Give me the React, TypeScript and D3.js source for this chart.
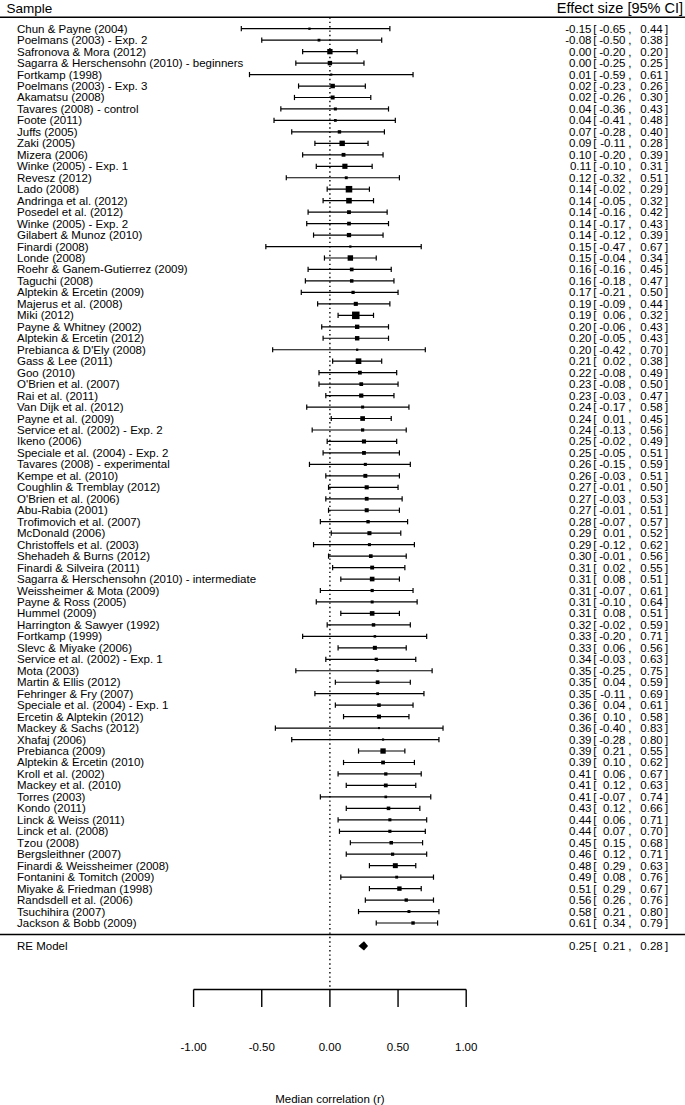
import React, { useEffect } from "react";
import * as d3 from "d3";

const studies = [
  "Chun & Payne (2004)",
  "Poelmans (2003) - Exp. 2",
  "Safronova & Mora (2012)",
  "Sagarra & Herschensohn (2010) - beginners",
  "Fortkamp (1998)",
  "Poelmans (2003) - Exp. 3",
  "Akamatsu (2008)",
  "Tavares (2008) - control",
  "Foote (2011)",
  "Juffs (2005)",
  "Zaki (2005)",
  "Mizera (2006)",
  "Winke (2005) - Exp. 1",
  "Revesz (2012)",
  "Lado (2008)",
  "Andringa et al. (2012)",
  "Posedel et al. (2012)",
  "Winke (2005) - Exp. 2",
  "Gilabert & Munoz (2010)",
  "Finardi (2008)",
  "Londe (2008)",
  "Roehr & Ganem-Gutierrez (2009)",
  "Taguchi (2008)",
  "Alptekin & Ercetin (2009)",
  "Majerus et al. (2008)",
  "Miki (2012)",
  "Payne & Whitney (2002)",
  "Alptekin & Ercetin (2012)",
  "Prebianca & D'Ely (2008)",
  "Gass & Lee (2011)",
  "Goo (2010)",
  "O'Brien et al. (2007)",
  "Rai et al. (2011)",
  "Van Dijk et al. (2012)",
  "Payne et al. (2009)",
  "Service et al. (2002) - Exp. 2",
  "Ikeno (2006)",
  "Speciale et al. (2004) - Exp. 2",
  "Tavares (2008) - experimental",
  "Kempe et al. (2010)",
  "Coughlin & Tremblay (2012)",
  "O'Brien et al. (2006)",
  "Abu-Rabia (2001)",
  "Trofimovich et al. (2007)",
  "McDonald (2006)",
  "Christoffels et al. (2003)",
  "Shehadeh & Burns (2012)",
  "Finardi & Silveira (2011)",
  "Sagarra & Herschensohn (2010) - intermediate",
  "Weissheimer & Mota (2009)",
  "Payne & Ross (2005)",
  "Hummel (2009)",
  "Harrington & Sawyer (1992)",
  "Fortkamp (1999)",
  "Slevc & Miyake (2006)",
  "Service et al. (2002) - Exp. 1",
  "Mota (2003)",
  "Martin & Ellis (2012)",
  "Fehringer & Fry (2007)",
  "Speciale et al. (2004) - Exp. 1",
  "Ercetin & Alptekin (2012)",
  "Mackey & Sachs (2012)",
  "Xhafaj (2006)",
  "Prebianca (2009)",
  "Alptekin & Ercetin (2010)",
  "Kroll et al. (2002)",
  "Mackey et al. (2010)",
  "Torres (2003)",
  "Kondo (2011)",
  "Linck & Weiss (2011)",
  "Linck et al. (2008)",
  "Tzou (2008)",
  "Bergsleithner (2007)",
  "Finardi & Weissheimer (2008)",
  "Fontanini & Tomitch (2009)",
  "Miyake & Friedman (1998)",
  "Randsdell et al. (2006)",
  "Tsuchihira (2007)",
  "Jackson & Bobb (2009)",
];

const effect = [
  -0.15, -0.08, 0.0, 0.0, 0.01, 0.02, 0.02, 0.04, 0.04, 0.07, 0.09, 0.1, 0.11,
  0.12, 0.14, 0.14, 0.14, 0.14, 0.14, 0.15, 0.15, 0.16, 0.16, 0.17, 0.19, 0.19,
  0.2, 0.2, 0.2, 0.21, 0.22, 0.23, 0.23, 0.24, 0.24, 0.24, 0.25, 0.25, 0.26,
  0.26, 0.27, 0.27, 0.27, 0.28, 0.29, 0.29, 0.3, 0.31, 0.31, 0.31, 0.31, 0.31,
  0.32, 0.33, 0.33, 0.34, 0.35, 0.35, 0.35, 0.36, 0.36, 0.36, 0.39, 0.39, 0.39,
  0.41, 0.41, 0.41, 0.43, 0.44, 0.44, 0.45, 0.46, 0.48, 0.49, 0.51, 0.56, 0.58,
  0.61,
];

const lower = [
  -0.65, -0.5, -0.2, -0.25, -0.59, -0.23, -0.26, -0.36, -0.41, -0.28, -0.11,
  -0.2, -0.1, -0.32, -0.02, -0.05, -0.16, -0.17, -0.12, -0.47, -0.04, -0.16,
  -0.18, -0.21, -0.09, 0.06, -0.06, -0.05, -0.42, 0.02, -0.08, -0.08, -0.03,
  -0.17, 0.01, -0.13, -0.02, -0.05, -0.15, -0.03, -0.01, -0.03, -0.01, -0.07,
  0.01, -0.12, -0.01, 0.02, 0.08, -0.07, -0.1, 0.08, -0.02, -0.2, 0.06, -0.03,
  -0.25, 0.04, -0.11, 0.04, 0.1, -0.4, -0.28, 0.21, 0.1, 0.06, 0.12, -0.07, 0.12,
  0.06, 0.07, 0.15, 0.12, 0.29, 0.08, 0.29, 0.26, 0.21, 0.34,
];

const upper = [
  0.44, 0.38, 0.2, 0.25, 0.61, 0.26, 0.3, 0.43, 0.48, 0.4, 0.28, 0.39, 0.31,
  0.51, 0.29, 0.32, 0.42, 0.43, 0.39, 0.67, 0.34, 0.45, 0.47, 0.5, 0.44, 0.32,
  0.43, 0.43, 0.7, 0.38, 0.49, 0.5, 0.47, 0.58, 0.45, 0.56, 0.49, 0.51, 0.59,
  0.51, 0.5, 0.53, 0.51, 0.57, 0.52, 0.62, 0.56, 0.55, 0.51, 0.61, 0.64, 0.51,
  0.59, 0.71, 0.56, 0.63, 0.75, 0.59, 0.69, 0.61, 0.58, 0.83, 0.8, 0.55, 0.62,
  0.67, 0.63, 0.74, 0.66, 0.71, 0.7, 0.68, 0.71, 0.63, 0.76, 0.67, 0.76, 0.8,
  0.79,
];

const summary = { label: "RE Model", est: 0.25, lb: 0.21, ub: 0.28 };
const xTicks = [-1, -0.5, 0, 0.5, 1];

const W = 685;
const H = 1105;
const font = "'Liberation Sans', Arial, sans-serif";
const fs = 11.5;

export default function App() {
  useEffect(() => {
    document.body.style.margin = "0";
  }, []);

  const x = d3.scaleLinear().domain([-1, 1]).range([193.6, 466.2]);
  // row index -1 = header rule, 0..78 = studies, 79 = separator, 80 = RE model
  const y = d3.scaleLinear().domain([0, studies.length - 1]).range([28.7, 923]);
  const axisY = 989.5;

  // square size from precision (Fisher z standard error)
  const weights = lower.map((lb, i) => {
    const se = (Math.atanh(upper[i]) - Math.atanh(lb)) / (2 * 1.96);
    return 1 / (se * se);
  });
  const size = d3
    .scaleSqrt()
    .domain([d3.min(weights) as number, d3.max(weights) as number])
    .range([2, 7.5]);

  const f2 = d3.format(".2f");
  const fmt = (v: number) => f2(v).replace("−", "-");

  const annot = (yy: number, e: number, lb: number, ub: number, key: string) => (
    <g key={key} fontSize={fs} fontFamily={font}>
      <text x={591.5} y={yy + 4} textAnchor="end">{fmt(e)}</text>
      <text x={593.3} y={yy + 4}>[</text>
      <text x={625.5} y={yy + 4} textAnchor="end">{fmt(lb)}</text>
      <text x={628.3} y={yy + 4}>,</text>
      <text x={662.7} y={yy + 4} textAnchor="end">{fmt(ub)}</text>
      <text x={665} y={yy + 4}>]</text>
    </g>
  );

  const topRule = y(-1);
  const sepRule = y(studies.length);
  const reY = y(studies.length + 1);

  return (
    <svg width={W} height={H} style={{ display: "block", background: "#fff" }}>
      {/* header */}
      <text x={6.5} y={13} fontSize={13.5} fontFamily={font}>Sample</text>
      <text x={683} y={13} fontSize={14.5} fontFamily={font} textAnchor="end">
        Effect size [95% CI]
      </text>
      <line x1={0} x2={W} y1={topRule} y2={topRule} stroke="#000" strokeWidth={1.6} />
      <line x1={0} x2={W} y1={sepRule} y2={sepRule} stroke="#000" strokeWidth={1.6} />

      {/* reference line at zero */}
      <line
        x1={x(0)}
        x2={x(0)}
        y1={topRule}
        y2={axisY}
        stroke="#000"
        strokeWidth={1.4}
        strokeDasharray="1.4,3"
      />

      {/* study rows */}
      {studies.map((s, i) => {
        const yy = y(i);
        const sz = size(weights[i]);
        return (
          <g key={s + i}>
            <text x={17} y={yy + 4} fontSize={fs} fontFamily={font}>{s}</text>
            <line x1={x(lower[i])} x2={x(upper[i])} y1={yy} y2={yy} stroke="#000" strokeWidth={1.2} />
            <line x1={x(lower[i])} x2={x(lower[i])} y1={yy - 2.6} y2={yy + 2.6} stroke="#000" strokeWidth={1.2} />
            <line x1={x(upper[i])} x2={x(upper[i])} y1={yy - 2.6} y2={yy + 2.6} stroke="#000" strokeWidth={1.2} />
            <rect x={x(effect[i]) - sz / 2} y={yy - sz / 2} width={sz} height={sz} fill="#000" />
            {annot(yy, effect[i], lower[i], upper[i], "a" + i)}
          </g>
        );
      })}

      {/* summary */}
      <text x={17} y={reY + 4} fontSize={fs} fontFamily={font}>{summary.label}</text>
      <polygon
        points={[
          [x(summary.lb), reY],
          [x(summary.est), reY - 4.6],
          [x(summary.ub), reY],
          [x(summary.est), reY + 4.6],
        ]
          .map((p) => p.join(","))
          .join(" ")}
        fill="#000"
      />
      {annot(reY, summary.est, summary.lb, summary.ub, "re")}

      {/* x axis */}
      <line x1={x(-1)} x2={x(1)} y1={axisY} y2={axisY} stroke="#000" strokeWidth={1.4} />
      {xTicks.map((t) => (
        <g key={t}>
          <line x1={x(t)} x2={x(t)} y1={axisY} y2={axisY + 17.5} stroke="#000" strokeWidth={1.4} />
          <text x={x(t)} y={1051} fontSize={fs} fontFamily={font} textAnchor="middle">
            {fmt(t)}
          </text>
        </g>
      ))}
      <text x={x(0)} y={1103} fontSize={fs} fontFamily={font} textAnchor="middle">
        Median correlation (r)
      </text>
    </svg>
  );
}
